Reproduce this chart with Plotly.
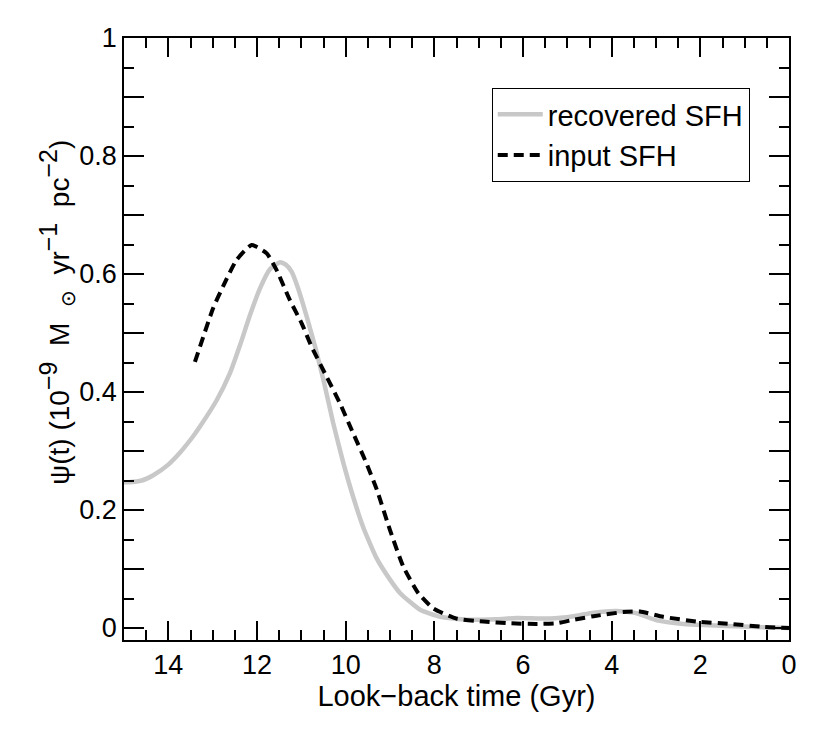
import plotly.graph_objects as go

# Recovered SFH (grey solid)
t_rec = [15.0, 14.9, 14.6, 14.34, 14.0, 13.74, 13.44, 13.29, 12.91, 12.61, 12.38,
         12.16, 11.93, 11.71, 11.48, 11.35, 11.22, 11.07, 10.88, 10.69, 10.50, 10.28,
         10.05, 9.83, 9.60, 9.30, 9.00, 8.77, 8.32, 7.87, 7.27, 6.59, 6.14, 5.39,
         4.86, 4.41, 3.89, 3.44, 2.98, 2.38, 1.93, 0.88, 0.0]
sfh_rec = [0.247, 0.247, 0.250, 0.259, 0.277, 0.297, 0.325, 0.341, 0.386, 0.432, 0.480,
           0.530, 0.576, 0.608, 0.620, 0.616, 0.604, 0.575, 0.528, 0.477, 0.420, 0.347,
           0.279, 0.222, 0.170, 0.118, 0.082, 0.059, 0.031, 0.019, 0.014, 0.015, 0.017, 0.016,
           0.020, 0.026, 0.029, 0.025, 0.013, 0.007, 0.005, 0.002, 0.0]

# Input SFH (black dashed)
t_in = [13.40, 12.99, 12.76, 12.46, 12.12, 11.78, 11.56, 11.26, 10.99, 10.77,
        10.43, 10.13, 9.83, 9.53, 9.30, 9.00, 8.70, 8.36, 8.02, 7.50, 6.89,
        6.29, 5.69, 5.24, 4.86, 4.41, 3.74, 3.36, 2.84, 2.08, 1.33, 0.58, 0.0]
sfh_in = [0.451, 0.542, 0.580, 0.624, 0.649, 0.635, 0.607, 0.556, 0.516, 0.477,
          0.426, 0.381, 0.330, 0.279, 0.235, 0.166, 0.104, 0.059, 0.033, 0.016, 0.011,
          0.008, 0.007, 0.008, 0.014, 0.020, 0.027, 0.028, 0.019, 0.011, 0.007, 0.002, 0.0]

y_ticks = [0, 0.1, 0.2, 0.3, 0.4, 0.5, 0.6, 0.7, 0.8, 0.9, 1.0]
y_labels = ["0", "", "0.2", "", "0.4", "", "0.6", "", "0.8", "", "1"]

sup = '<sup><span style="font-size:25px">{}</span></sup>'
y_title = ("\u03c8(t) (10" + sup.format("\u22129") + "  M  <sub>\u2299</sub>  yr"
           + sup.format("\u22121") + "  pc" + sup.format("\u22122") + ")")

fig = go.Figure()

fig.add_trace(go.Scatter(
    x=t_rec, y=sfh_rec, mode="lines", name="recovered SFH",
    line=dict(color="#c8c8c8", width=4.5, shape="spline", smoothing=0.5),
))
fig.add_trace(go.Scatter(
    x=t_in, y=sfh_in, mode="lines", name="input SFH",
    line=dict(color="black", width=4, dash="10px,6px", shape="spline", smoothing=0.5),
))

fig.update_xaxes(
    range=[15, 0],
    showline=True, linecolor="black", linewidth=1.5, mirror="allticks",
    ticks="inside", ticklen=19, tickwidth=1.5, tickcolor="black",
    tickmode="linear", tick0=0, dtick=2,
    minor=dict(ticks="inside", ticklen=10, tickwidth=1.5, tickcolor="black",
               tickmode="linear", tick0=0, dtick=0.5, showgrid=False),
    showgrid=False, zeroline=False,
    tickfont=dict(size=27),
    title=dict(text="Look\u2212back time (Gyr)", standoff=0, font=dict(size=29)),
)
fig.update_yaxes(
    range=[-0.0203, 1],
    showline=True, linecolor="black", linewidth=1.5, mirror="allticks",
    ticks="inside", ticklen=20, tickwidth=1.5, tickcolor="black",
    tickmode="array", tickvals=y_ticks, ticktext=y_labels,
    minor=dict(ticks="inside", ticklen=10, tickwidth=1.5, tickcolor="black",
               tickmode="linear", tick0=0, dtick=0.05, showgrid=False),
    showgrid=False, zeroline=False,
    tickfont=dict(size=27),
)

# y title as an annotation so its position can match the original
fig.add_annotation(
    text=y_title, textangle=-90, showarrow=False,
    xref="paper", yref="paper", x=-0.101, y=0.545,
    xanchor="center", yanchor="middle",
    font=dict(size=28),
)

fig.update_layout(
    width=830, height=754,
    margin=dict(l=116, r=49, t=30, b=122),
    paper_bgcolor="white", plot_bgcolor="white",
    font=dict(family="Liberation Sans, Arial, sans-serif", size=27, color="black"),
    legend=dict(
        x=0.553, y=0.917, xanchor="left", yanchor="top",
        bordercolor="black", borderwidth=1, bgcolor="white",
        font=dict(size=29), tracegroupgap=0, itemwidth=45,
    ),
)

fig.write_html("out.html")
